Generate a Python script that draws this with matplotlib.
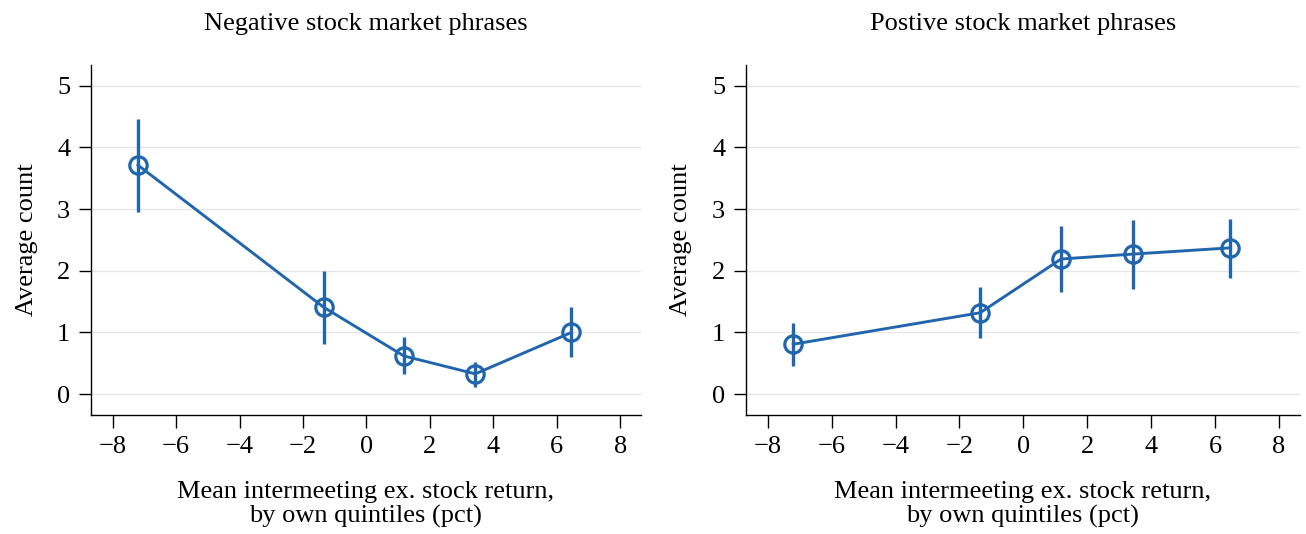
import matplotlib.pyplot as plt

plt.rcParams['font.family'] = ['Liberation Serif', 'DejaVu Serif']
plt.rcParams['axes.unicode_minus'] = True

# quintile means (pct)
x_vals = [-7.2, -1.35, 1.18, 3.43, 6.46]

neg_mean = [3.71, 1.41, 0.62, 0.33, 1.00]
neg_lo = [2.95, 0.82, 0.32, 0.12, 0.60]
neg_hi = [4.45, 2.00, 0.92, 0.52, 1.41]

pos_mean = [0.81, 1.32, 2.19, 2.27, 2.37]
pos_lo = [0.46, 0.91, 1.66, 1.71, 1.88]
pos_hi = [1.15, 1.74, 2.72, 2.82, 2.84]

titles = ['Negative stock market phrases', 'Postive stock market phrases']
xticks = [-8, -6, -4, -2, 0, 2, 4, 6, 8]
yticks = [0, 1, 2, 3, 4, 5]

color = '#2166ac'
fs = 19

fig = plt.figure(figsize=(13.06, 5.34), dpi=100)
ax1 = fig.add_axes([0.0697, 0.223, 0.421, 0.655])
ax2 = fig.add_axes([0.5712, 0.223, 0.424, 0.655])

panels = [(ax1, neg_mean, neg_lo, neg_hi), (ax2, pos_mean, pos_lo, pos_hi)]
for (ax, mean, lo, hi), title in zip(panels, titles):
    ax.vlines(x_vals, lo, hi, color=color, linewidth=2.4, zorder=3)
    ax.plot(x_vals, mean, color=color, linewidth=2.1, marker='o',
            markersize=12.5, markerfacecolor='none', markeredgewidth=2.3, zorder=4)
    ax.set_xlim(-8.68, 8.65)
    ax.set_ylim(-0.335, 5.33)
    ax.set_xticks(xticks)
    ax.set_yticks(yticks)
    ax.grid(axis='y', color='#e6e6e6', linewidth=1.0)
    ax.set_axisbelow(True)
    for s in ['top', 'right']:
        ax.spines[s].set_visible(False)
    for s in ['left', 'bottom']:
        ax.spines[s].set_linewidth(1.0)
    ax.tick_params(axis='both', labelsize=fs, length=9, width=1.0, direction='out')
    ax.tick_params(axis='y', pad=6)
    ax.tick_params(axis='x', pad=6)
    ax.set_title(title, fontsize=fs, pad=25)
    ax.set_ylabel('Average count', fontsize=fs, labelpad=14)
    ax.set_xlabel('Mean intermeeting ex. stock return,\nby own quintiles (pct)',
                  fontsize=fs, labelpad=17, linespacing=1.1)

fig.savefig('out.png', dpi=100)
